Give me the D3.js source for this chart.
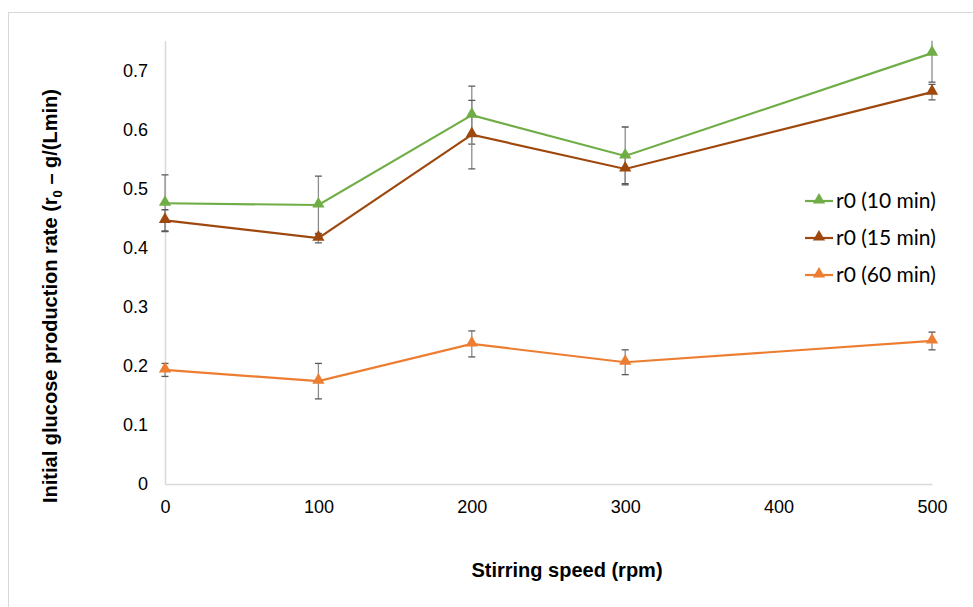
<!DOCTYPE html>
<html>
<head>
<meta charset="utf-8">
<script src="https://cdn.jsdelivr.net/npm/d3@7"></script>
<style>
  body { margin: 0; background: #fff; }
  svg { display: block; }
</style>
</head>
<body>
<svg id="chart"></svg>
<script>
const speeds = [0, 100, 200, 300, 500];
const seriesNames = ["r0 (10 min)", "r0 (15 min)", "r0 (60 min)"];
const r10 = [0.475, 0.472, 0.624, 0.555, 0.729];
const r10err = [0.048, 0.049, 0.049, 0.049, 0.049];
const r15 = [0.446, 0.416, 0.591, 0.533, 0.663];
const r15err = [0.018, 0.008, 0.058, 0.025, 0.013];
const r60 = [0.193, 0.174, 0.237, 0.206, 0.242];
const r60err = [0.011, 0.030, 0.022, 0.021, 0.015];
const xTicks = [0, 100, 200, 300, 400, 500];
const yTicks = [0, 0.1, 0.2, 0.3, 0.4, 0.5, 0.6, 0.7];
const colors = ["#70ad47", "#9e480e", "#ed7d31"];

const W = 973, H = 607;
const svg = d3.select("#chart").attr("width", W).attr("height", H);

// outer frame
svg.append("rect")
    .attr("x", 8.5).attr("y", 12.5)
    .attr("width", W + 10).attr("height", H + 10)
    .attr("fill", "none").attr("stroke", "#d9d9d9");

const x = d3.scaleLinear().domain([0, 500]).range([165, 932]);
const y = d3.scaleLinear().domain([0, 0.75]).range([484, 40.7]);

// axes
const yAxis = svg.append("g")
    .attr("transform", `translate(${x(0)},0)`)
    .call(d3.axisLeft(y).tickValues(yTicks).tickSize(0).tickPadding(17).tickFormat(d => d === 0 ? "0" : d3.format(".1f")(d)));
const xAxis = svg.append("g")
    .attr("transform", `translate(0,${y(0)})`)
    .call(d3.axisBottom(x).tickValues(xTicks).tickSize(0).tickPadding(16).tickFormat(d3.format("d")));

[xAxis, yAxis].forEach(g => {
    g.select(".domain").attr("stroke", "#d9d9d9").attr("stroke-width", 1.5);
    g.selectAll("text")
        .attr("font-family", "Liberation Sans, Arial, sans-serif")
        .attr("font-size", 18)
        .attr("fill", "#000");
});

// axis titles
svg.append("text")
    .attr("x", 567).attr("y", 577)
    .attr("text-anchor", "middle")
    .attr("font-family", "Liberation Sans, Arial, sans-serif")
    .attr("font-weight", "bold").attr("font-size", 20)
    .text("Stirring speed (rpm)");

const yt = svg.append("text")
    .attr("transform", "translate(57,296) rotate(-90)")
    .attr("text-anchor", "middle")
    .attr("font-family", "Liberation Sans, Arial, sans-serif")
    .attr("font-weight", "bold").attr("font-size", 20);
yt.append("tspan").text("Initial glucose production rate (r");
yt.append("tspan").attr("font-size", 13).attr("dy", 5).text("0");
yt.append("tspan").attr("dy", -5).text(" \u2013 g/(Lmin)");

const series = [r10, r15, r60].map((vals, i) => ({
    name: seriesNames[i],
    color: colors[i],
    points: speeds.map((s, j) => ({ s, v: vals[j], e: [r10err, r15err, r60err][i][j] }))
}));

const line = d3.line().x(d => x(d.s)).y(d => y(d.v));
const tri = d3.symbol().type(d3.symbolTriangle).size(65);

// error bars (clipped to plot top)
svg.append("clipPath").attr("id", "plotclip")
    .append("rect").attr("x", 100).attr("y", y(0.75)).attr("width", 880).attr("height", 500);

series.forEach(sr => {
    const eb = svg.append("g").attr("clip-path", "url(#plotclip)");
    sr.points.forEach(p => {
        eb.append("line")
            .attr("x1", x(p.s)).attr("x2", x(p.s))
            .attr("y1", y(p.v + p.e)).attr("y2", y(p.v - p.e))
            .attr("stroke", "#8c8c8c").attr("stroke-width", 1.3);
        [p.v + p.e, p.v - p.e].forEach(v => {
            eb.append("line")
                .attr("x1", x(p.s) - 3.5).attr("x2", x(p.s) + 3.5)
                .attr("y1", y(v)).attr("y2", y(v))
                .attr("stroke", "#595959").attr("stroke-width", 1.3);
        });
    });
});

series.forEach(sr => {
    svg.append("path")
        .datum(sr.points)
        .attr("d", line)
        .attr("fill", "none")
        .attr("stroke", sr.color)
        .attr("stroke-width", 2.2);
    svg.selectAll(null)
        .data(sr.points)
        .enter()
        .append("path")
        .attr("d", tri)
        .attr("transform", d => `translate(${x(d.s)},${y(d.v) - 1})`)
        .attr("fill", sr.color);
});

// legend
const legend = svg.append("g").attr("transform", "translate(805,201)");
series.forEach((sr, i) => {
    const g = legend.append("g").attr("transform", `translate(0,${i * 37})`);
    g.append("line").attr("x1", 0).attr("x2", 28)
        .attr("stroke", sr.color).attr("stroke-width", 2.2);
    g.append("path").attr("d", tri).attr("transform", "translate(14,-1)").attr("fill", sr.color);
    g.append("text").attr("x", 31).attr("y", 7)
        .attr("font-family", "Lato, Open Sans, sans-serif")
        .attr("font-size", 21)
        .attr("fill", "#000")
        .text(sr.name);
});
</script>
</body>
</html>
